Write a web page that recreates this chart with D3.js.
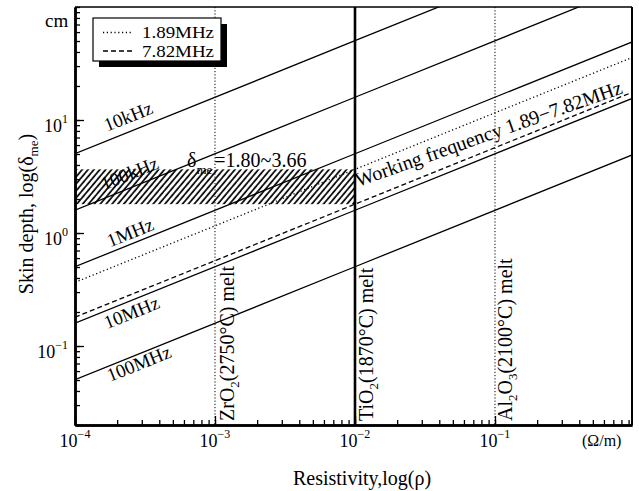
<!DOCTYPE html>
<html><head><meta charset="utf-8">
<script src="https://cdn.jsdelivr.net/npm/d3@7"></script>
<style>
body{margin:0;background:#fff}
svg{display:block}
text{font-family:"Liberation Serif","DejaVu Serif",serif;fill:#000}
</style>
</head><body>
<svg id="chart" width="639" height="491"></svg>
<script>
// ---------- data ----------
const rhoPoints = [1e-4, 1e-2, 1];           // resistivity (Ω/m) where depths are read
const depth10kHz  = [5.03, 50.3, 503];
const depth100kHz = [1.59, 15.9, 159];
const depth1MHz   = [0.503, 5.03, 50.3];
const depth189MHz = [0.366, 3.66, 36.6];
const depth782MHz = [0.180, 1.80, 18.0];
const depth10MHz  = [0.159, 1.59, 15.9];
const depth100MHz = [0.0503, 0.503, 5.03];
const seriesNames = ["10kHz","100kHz","1MHz","1.89MHz","7.82MHz","10MHz","100MHz"];

const bandRho = [1e-4, 1e-2];
const bandDepth = [1.80, 3.66];

const meltRho = [1e-3, 1e-2, 1e-1];

const xMajorTicks = [1e-4, 1e-3, 1e-2, 1e-1];
const xTickExps = ["\u22124", "\u22123", "\u22122", "\u22121"];
const yMajorTicks = [0.1, 1, 10];
const yTickExps = ["\u22121", "0", "1"];

// ---------- layout ----------
const svg = d3.select("#chart");
const L = 75, R = 632, T = 7, B = 425;
const x = d3.scaleLog().domain([1e-4, 0.952]).range([L, R]);
const y = d3.scaleLog().domain([0.02, 100]).range([B, T]);

const defs = svg.append("defs");
defs.append("clipPath").attr("id","clip").append("rect")
  .attr("x", L).attr("y", T).attr("width", R - L).attr("height", B - T);
const pat = defs.append("pattern").attr("id","hatch").attr("patternUnits","userSpaceOnUse")
  .attr("width", 4.5).attr("height", 10).attr("patternTransform","rotate(40)");
pat.append("line").attr("x1",1).attr("y1",0).attr("x2",1).attr("y2",10)
  .attr("stroke","#000").attr("stroke-width",1.7);

const plot = svg.append("g").attr("clip-path","url(#clip)");

// melt lines
const meltStyles = [{w:1, d:"1.2,2"}, {w:2.6, d:null}, {w:1, d:"1.2,2"}];
meltRho.forEach((r, i) => {
  plot.append("line").attr("x1", x(r)).attr("x2", x(r)).attr("y1", T).attr("y2", B)
    .attr("stroke","#000").attr("stroke-width", meltStyles[i].w)
    .attr("stroke-dasharray", meltStyles[i].d);
});

// series lines
const allDepths = [depth10kHz, depth100kHz, depth1MHz, depth189MHz, depth782MHz, depth10MHz, depth100MHz];
const dashFor = {"1.89MHz":"1.2,2.6", "7.82MHz":"5,3"};
const line = d3.line().x(d => x(d[0])).y(d => y(d[1]));
allDepths.forEach((vals, i) => {
  const pts = rhoPoints.map((r, j) => [r, vals[j]]);
  plot.append("path").attr("d", line(pts)).attr("fill","none")
    .attr("stroke","#000").attr("stroke-width", 1.3)
    .attr("stroke-dasharray", dashFor[seriesNames[i]] || null);
});

// helper: y pixel on a series at pixel x (for label placement)
function yOn(vals, px) {
  const r = x.invert(px);
  const t = (Math.log10(r) - Math.log10(rhoPoints[0])) / (Math.log10(rhoPoints[1]) - Math.log10(rhoPoints[0]));
  const lv = Math.log10(vals[0]) + t * (Math.log10(vals[1]) - Math.log10(vals[0]));
  return y(Math.pow(10, lv));
}
const ang = -22;
const labelCfg = [
  {i:0, px:107, off:-9},
  {i:1, px:104, off:-8},
  {i:2, px:110, off:-5},
  {i:5, px:107, off:19},
  {i:6, px:110, off:16.5}
];
labelCfg.forEach(c => {
  const py = yOn(allDepths[c.i], c.px) + c.off;
  svg.append("text").attr("transform", `translate(${c.px},${py}) rotate(${ang})`)
    .attr("font-size", 19).text(seriesNames[c.i]);
});

// hatched band
svg.append("rect").attr("x", x(bandRho[0])).attr("width", x(bandRho[1]) - x(bandRho[0]))
  .attr("y", y(bandDepth[1])).attr("height", y(bandDepth[0]) - y(bandDepth[1]))
  .attr("fill","url(#hatch)");

// δme annotation
const dl = svg.append("text").attr("x", 187).attr("y", 167).attr("font-size", 20);
dl.append("tspan").text("\u03b4");
dl.append("tspan").attr("font-size", 13).attr("dy", 7).text("me");
dl.append("tspan").attr("dy", -7).attr("dx", 2).text("=" + bandDepth[0].toFixed(2) + "~" + bandDepth[1].toFixed(2));

// working frequency label
svg.append("text").attr("transform", "translate(358,187) rotate(-19.5)")
  .attr("font-size", 20).text("Working frequency " + "1.89\u22127.82MHz");

// melt labels (rotated)
const meltX = [234, 373, 512];
meltRho.forEach((r, i) => {
  const t = svg.append("text").attr("transform", `translate(${meltX[i]},421) rotate(-90)`).attr("font-size", 20);
  if (i === 0) {
    t.append("tspan").text("ZrO");
    t.append("tspan").attr("font-size", 13).attr("dy", 5).text("2");
    t.append("tspan").attr("dy", -5).text("(2750\u00b0C) melt");
  } else if (i === 1) {
    t.append("tspan").text("TiO");
    t.append("tspan").attr("font-size", 13).attr("dy", 5).text("2");
    t.append("tspan").attr("dy", -5).text("(1870\u00b0C) melt");
  } else {
    t.append("tspan").text("Al");
    t.append("tspan").attr("font-size", 13).attr("dy", 5).text("2");
    t.append("tspan").attr("dy", -5).text("O");
    t.append("tspan").attr("font-size", 13).attr("dy", 5).text("3");
    t.append("tspan").attr("dy", -5).text("(2100\u00b0C) melt");
  }
});

// ---------- axes ----------
function styleAxis(g, w) {
  g.select(".domain").attr("stroke","#000").attr("stroke-width", w);
  g.selectAll(".tick line").attr("stroke","#000").attr("stroke-width", 1.3);
}
// bottom
const gxMinor = svg.append("g").attr("transform", `translate(0,${B})`)
  .call(d3.axisBottom(x).tickValues(x.ticks()).tickSize(-5).tickSizeOuter(0).tickFormat(""));
styleAxis(gxMinor, 2.5);
const gxMajor = svg.append("g").attr("transform", `translate(0,${B})`)
  .call(d3.axisBottom(x).tickValues(xMajorTicks).tickSize(-9).tickSizeOuter(0).tickFormat(""));
styleAxis(gxMajor, 2.5);
xMajorTicks.forEach((v, i) => {
  const t = svg.append("text").attr("x", x(v)).attr("y", 447).attr("text-anchor","middle").attr("font-size", 18);
  t.append("tspan").text("10");
  t.append("tspan").attr("font-size", 12).attr("dy", -9).text(xTickExps[i]);
});
// left
const gyMinor = svg.append("g").attr("transform", `translate(${L},0)`)
  .call(d3.axisLeft(y).tickValues(y.ticks()).tickSize(-5).tickSizeOuter(0).tickFormat(""));
styleAxis(gyMinor, 2.5);
const gyMajor = svg.append("g").attr("transform", `translate(${L},0)`)
  .call(d3.axisLeft(y).tickValues(yMajorTicks).tickSize(-9).tickSizeOuter(0).tickFormat(""));
styleAxis(gyMajor, 2.5);
yMajorTicks.forEach((v, i) => {
  const t = svg.append("text").attr("x", 68).attr("y", y(v) + 12).attr("text-anchor","end").attr("font-size", 18);
  t.append("tspan").text("10");
  t.append("tspan").attr("font-size", 12).attr("dy", -9).text(yTickExps[i]);
});
// top / right frame
svg.append("line").attr("x1", L).attr("x2", R).attr("y1", T).attr("y2", T).attr("stroke","#000").attr("stroke-width", 1.5);
svg.append("line").attr("x1", R).attr("x2", R).attr("y1", T).attr("y2", B).attr("stroke","#000").attr("stroke-width", 2);

svg.append("text").attr("x", 45).attr("y", 27).attr("font-size", 19).text("cm");
svg.append("text").attr("x", 582).attr("y", 446).attr("font-size", 16).text("(\u03a9/m)");

// axis titles
svg.append("text").attr("x", 362).attr("y", 485).attr("text-anchor","middle").attr("font-size", 20)
  .text("Resistivity,log(\u03c1)");
const yt = svg.append("text").attr("transform", "translate(33,214) rotate(-90)")
  .attr("text-anchor","middle").attr("font-size", 20);
yt.append("tspan").text("Skin depth, log(\u03b4");
yt.append("tspan").attr("font-size", 13).attr("dy", 5).text("me");
yt.append("tspan").attr("dy", -5).text(")");

// ---------- legend ----------
const lg = svg.append("g");
lg.append("rect").attr("x", 99).attr("y", 24).attr("width", 128).attr("height", 43).attr("fill","#000");
lg.append("rect").attr("x", 93).attr("y", 18).attr("width", 128).attr("height", 43)
  .attr("fill","#fff").attr("stroke","#000").attr("stroke-width", 1.2);
[["1.89MHz", 32.5, 38], ["7.82MHz", 51, 56.5]].forEach(([name, ly, ty]) => {
  lg.append("line").attr("x1", 103).attr("x2", 133).attr("y1", ly).attr("y2", ly)
    .attr("stroke","#000").attr("stroke-width", 1.3).attr("stroke-dasharray", dashFor[name]);
  lg.append("text").attr("x", 142).attr("y", ty).attr("font-size", 16).attr("textLength", 72)
    .attr("lengthAdjust", "spacingAndGlyphs").text(name);
});
</script>
</body></html>
